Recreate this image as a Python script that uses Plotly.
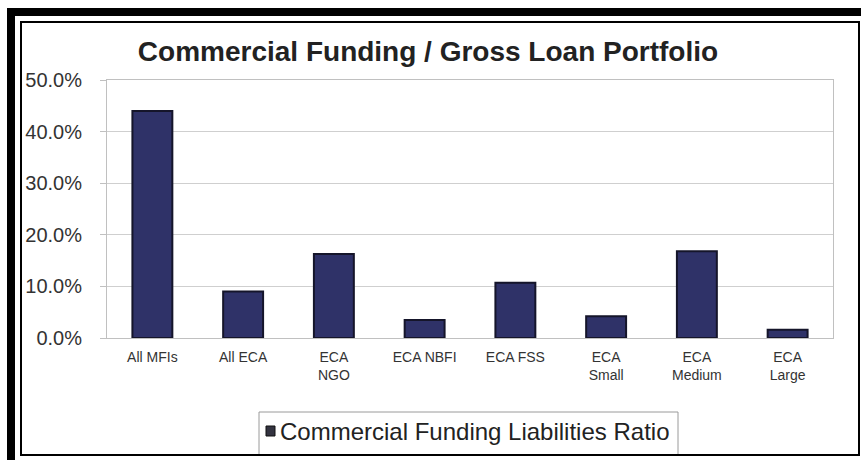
import plotly.graph_objects as go

# Commercial funding liabilities as a share of gross loan portfolio
categories = ["All MFIs", "All ECA", "ECA<br>NGO", "ECA NBFI", "ECA FSS",
              "ECA<br>Small", "ECA<br>Medium", "ECA<br>Large"]
ratio_values = [0.44, 0.09, 0.163, 0.035, 0.107, 0.042, 0.168, 0.016]
series_name = "Commercial Funding Liabilities Ratio"
y_ticks = [0.0, 0.1, 0.2, 0.3, 0.4, 0.5]
y_tick_labels = ["0.0%", "10.0%", "20.0%", "30.0%", "40.0%", "50.0%"]

FONT = "Liberation Sans, Arial, sans-serif"

fig = go.Figure()
fig.add_trace(go.Bar(
    x=categories,
    y=ratio_values,
    name=series_name,
    marker=dict(color="#2f3268", line=dict(color="#15152a", width=2)),
    showlegend=False,
))

W, H = 861, 460
L, R, T, B = 107, 28, 80, 122
pw = W - L - R
ph = H - T - B


def px_x(x):
    """Convert a pixel column to paper x."""
    return (x - L) / pw


def px_y(y):
    """Convert a pixel row (from the top) to paper y."""
    return (H - B - y) / ph


fig.update_layout(
    width=W, height=H,
    margin=dict(l=L, r=R, t=T, b=B, pad=0),
    paper_bgcolor="white",
    plot_bgcolor="white",
    bargap=0.56,
    font=dict(family=FONT, color="#333333"),
    title=dict(
        text="<b>Commercial Funding / Gross Loan Portfolio</b>",
        font=dict(family=FONT, size=28, color="#222222"),
        x=428 / W, xanchor="center",
        y=1 - 51 / H, yanchor="middle",
    ),
    xaxis=dict(
        type="category",
        tickfont=dict(size=14, color="#333333"),
        showline=True, linecolor="#c0c0c0", linewidth=1,
        ticks="", ticklabelstandoff=6,
        mirror=True,
    ),
    yaxis=dict(
        range=[0, 0.5],
        tickvals=y_ticks,
        ticktext=y_tick_labels,
        tickfont=dict(size=20, color="#333333"),
        showgrid=True, gridcolor="#cfcfcf", gridwidth=1,
        showline=True, linecolor="#c0c0c0", linewidth=1,
        ticks="outside", ticklen=6, tickcolor="#c0c0c0",
        ticklabelstandoff=14,
        mirror=True,
        zeroline=False,
    ),
)

# Legend box with swatch and series name
fig.add_shape(type="rect", xref="paper", yref="paper",
              x0=px_x(259), x1=px_x(678), y0=px_y(455), y1=px_y(412),
              line=dict(color="#9a9a9a", width=1), fillcolor="white")
fig.add_shape(type="rect", xref="paper", yref="paper",
              x0=px_x(266), x1=px_x(275), y0=px_y(436), y1=px_y(426),
              line=dict(color="#111111", width=1), fillcolor="#333340")
fig.add_annotation(xref="paper", yref="paper",
                   x=px_x(278), y=px_y(431), xanchor="left", yanchor="middle",
                   text=series_name, showarrow=False,
                   font=dict(family=FONT, size=24, color="#222222"))

# Outer frame: thick black band and thin inner rule
fig.add_shape(type="rect", xref="paper", yref="paper",
              x0=px_x(11), x1=px_x(W + 20),
              y0=px_y(H + 20), y1=px_y(12),
              line=dict(color="black", width=8), fillcolor="rgba(0,0,0,0)",
              layer="above")
fig.add_shape(type="rect", xref="paper", yref="paper",
              x0=px_x(21), x1=px_x(859),
              y0=px_y(455), y1=px_y(22),
              line=dict(color="black", width=2), fillcolor="rgba(0,0,0,0)",
              layer="above")

fig.write_html("out.html")
